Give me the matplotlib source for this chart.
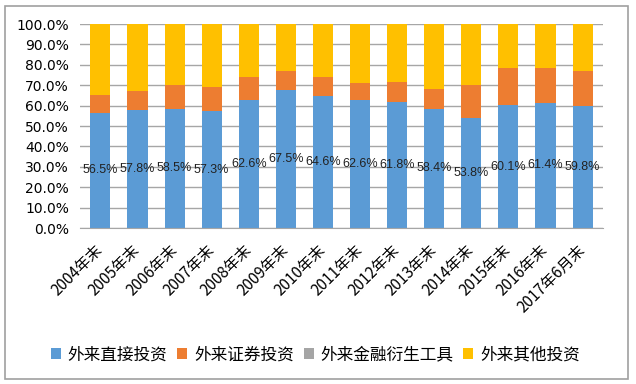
import numpy as np
import matplotlib.pyplot as plt
from matplotlib.patches import Rectangle

plt.rcParams['font.family'] = ['Noto Sans CJK SC', 'DejaVu Sans']

# data (% of total foreign liabilities)
periods = ['2004年末', '2005年末', '2006年末', '2007年末', '2008年末', '2009年末', '2010年末',
           '2011年末', '2012年末', '2013年末', '2014年末', '2015年末', '2016年末', '2017年6月末']
direct = [56.5, 57.8, 58.5, 57.3, 62.6, 67.5, 64.6, 62.6, 61.8, 58.4, 53.8, 60.1, 61.4, 59.8]
portfolio = [8.5, 9.4, 11.6, 11.7, 11.4, 9.6, 9.4, 8.3, 9.8, 9.9, 16.3, 18.5, 17.2, 17.3]
derivative = [0.0, 0.0, 0.0, 0.0, 0.0, 0.0, 0.0, 0.0, 0.0, 0.0, 0.0, 0.0, 0.0, 0.0]
other = [100 - a - b - c for a, b, c in zip(direct, portfolio, derivative)]
names = ['外来直接投资', '外来证券投资', '外来金融衍生工具', '外来其他投资']
colors = ['#5B9BD5', '#ED7D31', '#A5A5A5', '#FFC000']

fig = plt.figure(figsize=(6.36, 3.84), dpi=100)
ax = fig.add_axes([80 / 636, 1 - 228 / 384, 523 / 636, 204 / 384])

x = np.arange(len(periods))
bottom = np.zeros(len(periods))
bars = []
for vals, name, c in zip([direct, portfolio, derivative, other], names, colors):
    b = ax.bar(x, vals, 0.54, bottom=bottom, color=c, label=name, zorder=2)
    bars.append(b)
    bottom += np.array(vals)

ax.bar_label(bars[0], labels=[f'{v:.1f}%' for v in direct], label_type='center',
             fontsize=9, color='#222222', family=['Liberation Sans'])

ax.set_ylim(0, 100)
ax.set_xlim(-0.55, len(periods) - 0.45)
ax.set_yticks(np.arange(0, 101, 10))
ax.set_yticklabels([f'{v:.1f}%' for v in range(0, 101, 10)], fontsize=10, family=['DejaVu Sans'])
ax.yaxis.grid(True, color='#A6A6A6', lw=1, zorder=0)
ax.set_axisbelow(True)
ax.tick_params(axis='y', length=0, pad=8)
ax.tick_params(axis='x', length=0, pad=14)
for s in ['top', 'right', 'left']:
    ax.spines[s].set_visible(False)
ax.spines['bottom'].set_color('#A6A6A6')

ax.set_xticks(x)
ax.set_xticklabels(periods, rotation=45, ha='right', va='center', rotation_mode='anchor', fontsize=11)

fig.legend(handles=bars, labels=names, loc='center', bbox_to_anchor=(0.496, 1 - 355 / 384),
           ncol=4, frameon=False, fontsize=12, handlelength=0.6, handleheight=0.6,
           handletextpad=0.4, columnspacing=0.6)

fig.patches.append(Rectangle((5 / 636, 5 / 384), 623 / 636, 373 / 384, transform=fig.transFigure,
                             fill=False, edgecolor='#A0A0A0', lw=1.2))

fig.savefig('out.png', dpi=100)
